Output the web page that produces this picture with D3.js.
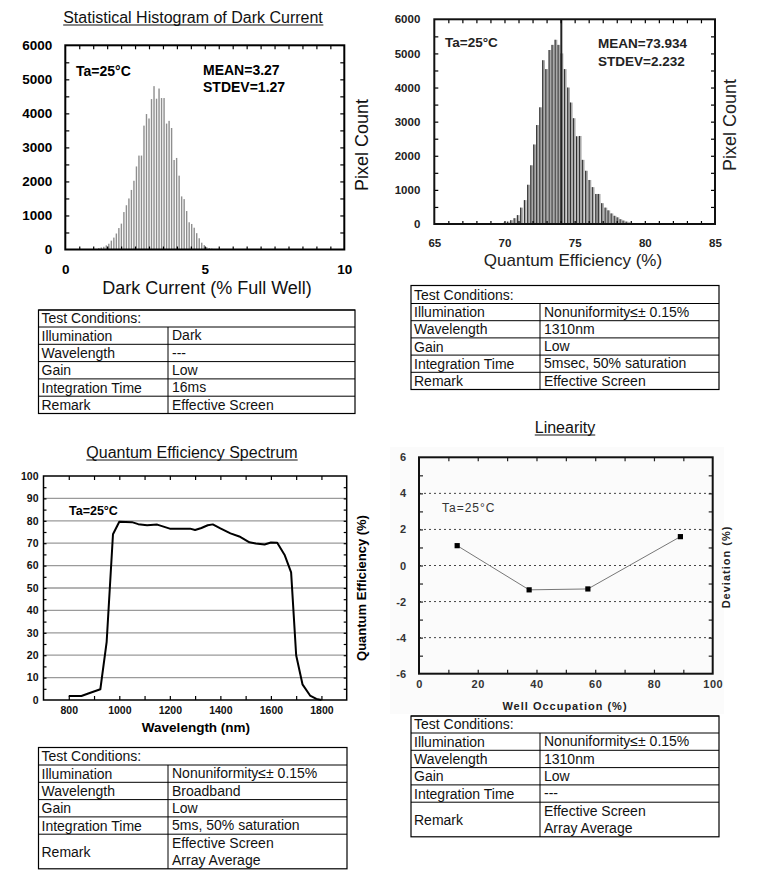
<!DOCTYPE html>
<html><head><meta charset="utf-8">
<script src="https://cdn.jsdelivr.net/npm/d3@7"></script>
<style>body{margin:0;background:#fff} svg text{font-family:"Liberation Sans",Arial,sans-serif}</style>
</head><body><svg id="c" width="757" height="883"></svg>
<script>
// ---------- DATA ----------
const darkBins = [1.20,1.29,1.38,1.47,1.56,1.65,1.74,1.83,1.92,2.01,2.10,2.19,2.28,2.37,2.46,2.55,2.64,2.73,2.82,2.91,3.00,3.09,3.18,3.27,3.36,3.45,3.54,3.63,3.72,3.81,3.90,3.99,4.08,4.17,4.26,4.35,4.44,4.53,4.62,4.71,4.80,4.89,4.98,5.07,5.16,5.25,5.34];
const darkCounts = [40,60,80,120,170,260,350,470,630,760,1100,1300,1500,1750,2020,2440,2760,2760,3640,3980,3850,4420,4800,4430,4730,4450,4450,3700,3780,3570,2630,2690,2170,1560,1480,1130,800,750,640,480,330,200,130,70,40,25,15];
const darkXTicks = [0,5,10];
const darkYTicks = [0,1000,2000,3000,4000,5000,6000];

const qeBins = [70.04,70.27,70.51,70.75,70.98,71.22,71.48,71.72,71.94,72.15,72.36,72.58,72.79,73.01,73.24,73.45,73.67,73.88,74.10,74.33,74.57,74.76,74.97,75.19,75.40,75.61,75.85,76.09,76.32,76.57,76.75,76.99,77.23,77.44,77.66,77.88,78.09,78.30,78.51,78.73,78.94,79.16,79.37,79.60];
const qeCounts = [40,70,110,170,260,480,700,1150,1720,2330,2900,3420,4800,4540,5100,5250,5400,5250,5000,4540,4000,3560,3100,2570,2580,1880,1560,1290,1080,880,880,610,480,400,310,240,195,140,100,70,40,30,20,10];
const qeMeanLine = 74.05;
const qeXTicks = [65,70,75,80,85];
const qeYTicks = [0,1000,2000,3000,4000,5000,6000];

const specWavelength = [800,850,880,925,950,975,1000,1050,1075,1110,1150,1200,1250,1280,1300,1325,1350,1370,1400,1440,1475,1515,1540,1575,1600,1625,1655,1680,1700,1725,1755,1780,1800];
const specQE = [1.8,1.8,3,4.8,26,74,79.6,79.4,78.5,78,78.3,76.5,76.5,76.5,75.9,76.8,78,78.4,76.6,74.4,73,70.4,69.9,69.4,70.3,70.2,64.6,57,20,7,2,0.5,0];
const specXTicks = [800,1000,1200,1400,1600,1800];
const specYTicks = [0,10,20,30,40,50,60,70,80,90,100];

const linOccupation = [13,37.5,57.5,89];
const linDeviation = [1.1,-1.35,-1.3,1.6];
const linXTicks = [0,20,40,60,80,100];
const linYTicks = [-6,-4,-2,0,2,4,6];
const linGrid = [-4,-2,0,2,4];

const tableHeader = "Test Conditions:";
const table1Rows = [["Illumination",["Dark"]],["Wavelength",["---"]],["Gain",["Low"]],["Integration Time",["16ms"]],["Remark",["Effective Screen"]]];
const table2Rows = [["Illumination",["Nonuniformity≤± 0.15%"]],["Wavelength",["1310nm"]],["Gain",["Low"]],["Integration Time",["5msec, 50% saturation"]],["Remark",["Effective Screen"]]];
const table3Rows = [["Illumination",["Nonuniformity≤± 0.15%"]],["Wavelength",["Broadband"]],["Gain",["Low"]],["Integration Time",["5ms, 50% saturation"]],["Remark",["Effective Screen","Array Average"]]];
const table4Rows = [["Illumination",["Nonuniformity≤± 0.15%"]],["Wavelength",["1310nm"]],["Gain",["Low"]],["Integration Time",["---"]],["Remark",["Effective Screen","Array Average"]]];

// ---------- HELPERS ----------
const svg = d3.select("#c");
svg.append("rect").attr("width",757).attr("height",883).attr("fill","#fff");

function title(x, y, txt) {
  const t = svg.append("text").attr("x",x).attr("y",y).attr("text-anchor","middle")
    .attr("font-size",16).attr("fill","#111").text(txt);
  const b = t.node().getBBox();
  svg.append("line").attr("x1",b.x).attr("x2",b.x+b.width).attr("y1",y+2).attr("y2",y+2)
    .attr("stroke","#111").attr("stroke-width",1.2);
}
function inTicks(x, y, vals, axisFn, pos, len, color) {
  const g = svg.append("g").attr("transform", pos)
    .call(axisFn.tickValues(vals).tickSize(-len).tickFormat(""));
  g.select(".domain").remove();
  g.selectAll("line").attr("stroke", color || "#000").attr("stroke-width",1.2);
}
function labels(axis, pos, vals, pad, size, opts) {
  opts = opts || {};
  const g = svg.append("g").attr("transform",pos)
    .call(axis.tickValues(vals).tickSize(0).tickPadding(pad).tickFormat(opts.fmt || (d=>d)));
  g.select(".domain").remove();
  g.selectAll("text").attr("font-size",size).attr("font-weight","bold")
    .attr("fill",opts.color || "#000").attr("font-family",'"Liberation Sans",Arial,sans-serif')
    .style("letter-spacing",opts.ls || "0px");
  return g;
}
function drawTable(x, y, w, c1, hHead, hRow, rows) {
  const g = svg.append("g");
  let cy = y;
  const fs = 14;
  g.append("text").attr("x",x+3).attr("y",cy+hHead-4).attr("font-size",fs).attr("fill","#111").text(tableHeader);
  g.append("line").attr("x1",x).attr("x2",x+w).attr("y1",cy).attr("y2",cy).attr("stroke","#000");
  cy += hHead;
  rows.forEach(r => {
    const h = hRow * r[1].length;
    g.append("line").attr("x1",x).attr("x2",x+w).attr("y1",cy).attr("y2",cy).attr("stroke","#000");
    g.append("line").attr("x1",x+c1).attr("x2",x+c1).attr("y1",cy).attr("y2",cy+h).attr("stroke","#000");
    g.append("text").attr("x",x+3).attr("y",cy + h/2 + 5).attr("font-size",fs).attr("fill","#111").text(r[0]);
    r[1].forEach((s,i) => {
      g.append("text").attr("x",x+c1+4).attr("y",cy + hRow*i + hRow - 4).attr("font-size",fs).attr("fill","#111").text(s);
    });
    cy += h;
  });
  g.append("rect").attr("x",x).attr("y",y).attr("width",w).attr("height",cy-y)
    .attr("fill","none").attr("stroke","#000").attr("stroke-width",1.2);
}

// ---------- CHART 1: Dark current histogram ----------
{
  const x = d3.scaleLinear([0,10],[65.3,344.3]);
  const y = d3.scaleLinear([0,6000],[249.5,45.3]);
  title(193, 23, "Statistical Histogram of Dark Current");
  svg.append("g").selectAll("rect").data(darkBins).join("rect")
    .attr("x",(d)=>x(d)-0.7).attr("width",1.4)
    .attr("y",(d,i)=>y(darkCounts[i])).attr("height",(d,i)=>y(0)-y(darkCounts[i]))
    .attr("fill","#8e8e8e");
  const minorX = d3.range(0.5,10,0.5), minorY = d3.range(500,6000,500);
  inTicks(0,0,minorY,d3.axisLeft(y),`translate(${x(0)},0)`,4);
  inTicks(0,0,minorY,d3.axisRight(y),`translate(${x(10)},0)`,4);
  inTicks(0,0,minorX,d3.axisTop(x),`translate(0,${y(6000)})`,4);
  inTicks(0,0,minorX,d3.axisBottom(x),`translate(0,${y(0)})`,3);
  svg.append("rect").attr("x",x(0)).attr("y",y(6000)).attr("width",x(10)-x(0)).attr("height",y(0)-y(6000))
    .attr("fill","none").attr("stroke","#000").attr("stroke-width",2);
  labels(d3.axisLeft(y),`translate(${x(0)},0)`,darkYTicks,13,13.5);
  labels(d3.axisBottom(x),`translate(0,${y(0)})`,darkXTicks,15,13.5);
  svg.append("text").attr("x",76).attr("y",76).attr("font-size",14).attr("font-weight","bold").text("Ta=25°C");
  svg.append("text").attr("x",203).attr("y",75).attr("font-size",14).attr("font-weight","bold").text("MEAN=3.27");
  svg.append("text").attr("x",203).attr("y",92).attr("font-size",14).attr("font-weight","bold").text("STDEV=1.27");
  svg.append("text").attr("x",207).attr("y",294).attr("text-anchor","middle").attr("font-size",18).attr("fill","#111").text("Dark Current (% Full Well)");
  svg.append("text").attr("transform","translate(368,145) rotate(-90)").attr("text-anchor","middle").attr("font-size",18).attr("fill","#111").text("Pixel Count");
}

// ---------- CHART 2: QE histogram ----------
{
  const x = d3.scaleLinear([65,85],[434.3,715]);
  const y = d3.scaleLinear([0,6000],[224,19.3]);
  const g = svg.append("g");
  g.selectAll("rect").data(qeBins).join("rect")
    .attr("x",d=>x(d)-1.3).attr("width",2.6)
    .attr("y",(d,i)=>y(qeCounts[i])).attr("height",(d,i)=>y(0)-y(qeCounts[i]))
    .attr("fill","#a8a8a8");
  g.selectAll("line").data(qeBins).join("line")
    .attr("x1",d=>x(d)-0.9).attr("x2",d=>x(d)-0.9)
    .attr("y1",(d,i)=>y(qeCounts[i])).attr("y2",y(0))
    .attr("stroke","#222").attr("stroke-width",1);
  svg.append("line").attr("x1",x(qeMeanLine)).attr("x2",x(qeMeanLine)).attr("y1",y(6000)).attr("y2",y(0))
    .attr("stroke","#222").attr("stroke-width",2);
  const minorX = d3.range(66,85,1), minorY = d3.range(500,6000,500);
  inTicks(0,0,minorY,d3.axisLeft(y),`translate(${x(65)},0)`,4);
  inTicks(0,0,minorY,d3.axisRight(y),`translate(${x(85)},0)`,4);
  inTicks(0,0,minorX,d3.axisTop(x),`translate(0,${y(6000)})`,4);
  inTicks(0,0,minorX,d3.axisBottom(x),`translate(0,${y(0)})`,3);
  svg.append("rect").attr("x",x(65)).attr("y",y(6000)).attr("width",x(85)-x(65)).attr("height",y(0)-y(6000))
    .attr("fill","none").attr("stroke","#111").attr("stroke-width",2);
  labels(d3.axisLeft(y),`translate(${x(65)},0)`,qeYTicks,14,11.5,{color:"#222"});
  labels(d3.axisBottom(x),`translate(0,${y(0)})`,qeXTicks,15,11.5,{color:"#222"});
  svg.append("text").attr("x",445).attr("y",47).attr("font-size",13.5).attr("font-weight","bold").attr("fill","#222").text("Ta=25°C");
  svg.append("text").attr("x",598).attr("y",48).attr("font-size",13.5).attr("font-weight","bold").attr("fill","#222").text("MEAN=73.934");
  svg.append("text").attr("x",598).attr("y",66).attr("font-size",13.5).attr("font-weight","bold").attr("fill","#222").text("STDEV=2.232");
  svg.append("text").attr("x",573).attr("y",266).attr("text-anchor","middle").attr("font-size",17).attr("fill","#222").text("Quantum Efficiency (%)");
  svg.append("text").attr("transform","translate(736,125) rotate(-90)").attr("text-anchor","middle").attr("font-size",18).attr("fill","#222").text("Pixel Count");
}

// ---------- Tables top ----------
drawTable(38.5, 310, 316.5, 129.5, 17, 17.3, table1Rows);
drawTable(411, 285.5, 308, 129, 18, 17.2, table2Rows);

// ---------- CHART 3: QE spectrum ----------
{
  const x = d3.scaleLinear([700,1900],[43.5,346.7]);
  const y = d3.scaleLinear([0,100],[700,476]);
  title(192, 458, "Quantum Efficiency Spectrum");
  svg.append("g").selectAll("line").data(specYTicks.filter(v=>v>0&&v<100)).join("line")
    .attr("x1",x(700)).attr("x2",x(1900)).attr("y1",d=>y(d)).attr("y2",d=>y(d))
    .attr("stroke","#9a9a9a").attr("stroke-width",1.3);
  const minorY = d3.range(5,100,5), minorX = d3.range(800,1900,100);
  inTicks(0,0,minorY,d3.axisLeft(y),`translate(${x(700)},0)`,3);
  inTicks(0,0,minorY,d3.axisRight(y),`translate(${x(1900)},0)`,3);
  inTicks(0,0,minorX,d3.axisTop(x),`translate(0,${y(100)})`,4);
  inTicks(0,0,minorX,d3.axisBottom(x),`translate(0,${y(0)})`,4);
  svg.append("rect").attr("x",x(700)).attr("y",y(100)).attr("width",x(1900)-x(700)).attr("height",y(0)-y(100))
    .attr("fill","none").attr("stroke","#000").attr("stroke-width",1.5);
  const line = d3.line().x((d,i)=>x(specWavelength[i])).y((d,i)=>y(specQE[i]));
  svg.append("path").datum(specQE).attr("d",line).attr("fill","none").attr("stroke","#000").attr("stroke-width",2).attr("stroke-linejoin","round");
  labels(d3.axisLeft(y),`translate(${x(700)},0)`,specYTicks,5,10.5,{color:"#111"});
  labels(d3.axisBottom(x),`translate(0,${y(0)})`,specXTicks,7,10.5,{color:"#111"});
  svg.append("text").attr("x",69).attr("y",515).attr("font-size",12.5).attr("font-weight","bold").text("Ta=25°C");
  svg.append("text").attr("x",196).attr("y",732).attr("text-anchor","middle").attr("font-size",13.5).attr("font-weight","bold").text("Wavelength (nm)");
  svg.append("text").attr("transform","translate(366,588) rotate(-90)").attr("text-anchor","middle").attr("font-size",13).attr("font-weight","bold").text("Quantum Efficiency (%)");
}

// ---------- CHART 4: Linearity ----------
{
  const x = d3.scaleLinear([0,100],[419,712.7]);
  const y = d3.scaleLinear([-6,6],[673.7,457.3]);
  svg.append("rect").attr("x",390).attr("y",447).attr("width",334).attr("height",267).attr("fill","#fbfbfb");
  title(565, 433, "Linearity");
  svg.append("g").selectAll("line").data(linGrid).join("line")
    .attr("x1",x(0)).attr("x2",x(100)).attr("y1",d=>y(d)).attr("y2",d=>y(d))
    .attr("stroke","#444").attr("stroke-width",1).attr("stroke-dasharray","2,3");
  const minorY = d3.range(-5,6,1), minorX = d3.range(10,100,10);
  inTicks(0,0,minorY,d3.axisLeft(y),`translate(${x(0)},0)`,4,"#222");
  inTicks(0,0,minorY,d3.axisRight(y),`translate(${x(100)},0)`,4,"#222");
  inTicks(0,0,minorX,d3.axisTop(x),`translate(0,${y(6)})`,4,"#222");
  inTicks(0,0,minorX,d3.axisBottom(x),`translate(0,${y(-6)})`,4,"#222");
  svg.append("rect").attr("x",x(0)).attr("y",y(6)).attr("width",x(100)-x(0)).attr("height",y(-6)-y(6))
    .attr("fill","none").attr("stroke","#111").attr("stroke-width",2);
  const line = d3.line().x((d,i)=>x(linOccupation[i])).y((d,i)=>y(linDeviation[i]));
  svg.append("path").datum(linDeviation).attr("d",line).attr("fill","none").attr("stroke","#777").attr("stroke-width",1);
  svg.append("g").selectAll("rect").data(linDeviation).join("rect")
    .attr("x",(d,i)=>x(linOccupation[i])-2.6).attr("y",d=>y(d)-2.6).attr("width",5.2).attr("height",5.2).attr("fill","#000");
  labels(d3.axisLeft(y),`translate(${x(0)},0)`,linYTicks,13,11,{color:"#333"});
  labels(d3.axisBottom(x),`translate(0,${y(-6)})`,linXTicks,7,11,{color:"#333",ls:"0.5px"});
  svg.append("text").attr("x",442).attr("y",512).attr("font-size",12).attr("fill","#333").style("letter-spacing","1px").text("Ta=25°C");
  svg.append("text").attr("x",565).attr("y",710).attr("text-anchor","middle").attr("font-size",11).attr("font-weight","bold").attr("fill","#222").style("letter-spacing","1px").text("Well Occupation (%)");
  svg.append("text").attr("transform","translate(730,567) rotate(-90)").attr("text-anchor","middle").attr("font-size",11).attr("font-weight","bold").attr("fill","#222").style("letter-spacing","1px").text("Deviation (%)");
}

// ---------- Tables bottom ----------
drawTable(38.5, 747.5, 308.5, 129.5, 17.5, 17.3, table3Rows);
drawTable(411, 716, 308, 129, 17, 17.3, table4Rows);
</script></body></html>
